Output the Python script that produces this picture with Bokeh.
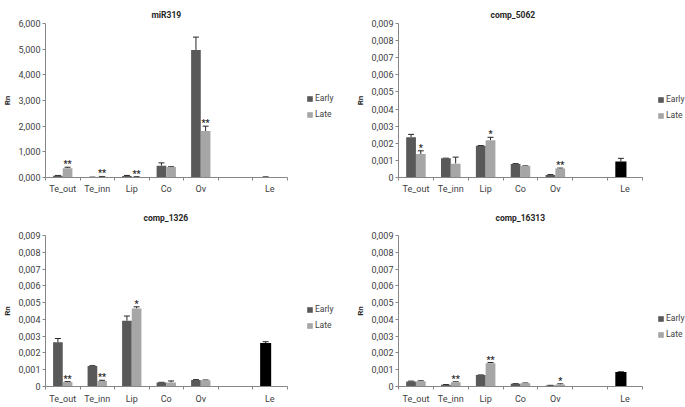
from bokeh.plotting import figure
from bokeh.layouts import gridplot
from bokeh.models import (Range1d, FixedTicker, ColumnDataSource, Whisker, TeeHead,
                          Legend, LegendItem)
from bokeh.core.properties import value
from bokeh.embed import file_html
from bokeh.resources import INLINE

# ---------------- data ----------------
categories = ["Te_out", "Te_inn", "Lip", "Co", "Ov", "", "Le"]
titles = ["miR319", "comp_5062", "comp_1326", "comp_16313"]

mir319_early = [0.07, 0.01, 0.06, 0.46, 4.97]
mir319_early_err = [0.01, 0.005, 0.02, 0.11, 0.50]
mir319_late = [0.36, 0.03, 0.02, 0.41, 1.81]
mir319_late_err = [0.04, 0.01, 0.01, 0.01, 0.19]
mir319_le = 0.02
mir319_le_err = 0.005
mir319_stars = ["**", "**", "**", "", "**"]

c5062_early = [0.00235, 0.00112, 0.00185, 0.00079, 0.00015]
c5062_early_err = [0.00017, 0.00001, 0.00002, 0.00002, 0.00002]
c5062_late = [0.00137, 0.00081, 0.00217, 0.00067, 0.00052]
c5062_late_err = [0.00019, 0.00038, 0.00018, 0.00001, 0.00003]
c5062_le = 0.00094
c5062_le_err = 0.00018
c5062_stars = ["*", "", "*", "", "**"]

c1326_early = [0.00263, 0.00122, 0.00392, 0.00024, 0.00039]
c1326_early_err = [0.00023, 0.00002, 0.00028, 0.00001, 0.00002]
c1326_late = [0.00027, 0.00033, 0.00465, 0.00024, 0.00037]
c1326_late_err = [0.00002, 0.00004, 0.00010, 0.00009, 0.00002]
c1326_le = 0.00259
c1326_le_err = 0.00008
c1326_stars = ["**", "**", "*", "", ""]

c16313_early = [0.00030, 0.00011, 0.00068, 0.00016, 0.00006]
c16313_early_err = [0.00002, 0.00001, 0.00001, 0.00001, 0.00001]
c16313_late = [0.00032, 0.00026, 0.00138, 0.00019, 0.00012]
c16313_late_err = [0.00002, 0.00002, 0.00005, 0.00002, 0.00004]
c16313_le = 0.00086
c16313_le_err = 0.00002
c16313_stars = ["", "**", "**", "", "*"]

mir_ticks = [0, 1, 2, 3, 4, 5, 6]
comp_ticks = [0, 0.001, 0.002, 0.003, 0.004, 0.005, 0.006, 0.007, 0.008, 0.009]

EARLY_COLOR = "#595959"
LATE_COLOR = "#a6a6a6"
LE_COLOR = "#000000"
AXIS_COLOR = "#868686"
TEXT_COLOR = "#404040"
FONT = "Roboto"


def label_fmt(v, decimals):
    if decimals == 0 and v == 0:
        return "0"
    return ("%.3f" % v).replace(".", ",")


def make_panel(title, early, early_err, late, late_err, le, le_err, stars,
               yticks, decimals, width, height, bl, bt, bb, axis_px,
               title_offset, title_standoff, legend_loc, x_standoff):
    ncat = len(categories)
    frame_w = width - bl
    x_end = ncat * frame_w / axis_px
    p = figure(width=width, height=height, output_backend="svg", toolbar_location=None,
               x_range=Range1d(0, x_end), y_range=Range1d(0, yticks[-1]),
               min_border_left=bl, min_border_right=0, min_border_top=bt,
               min_border_bottom=bb, outline_line_color=None)
    p.xgrid.visible = False
    p.ygrid.visible = False

    n = len(early)
    xe = [i + 0.5 - 0.14 for i in range(n)]
    xl = [i + 0.5 + 0.14 for i in range(n)]
    le_idx = categories.index("Le")
    xle = [le_idx + 0.5 - 0.12]

    src_e = ColumnDataSource(dict(x=xe, top=early, up=[a + b for a, b in zip(early, early_err)]))
    src_l = ColumnDataSource(dict(x=xl, top=late, up=[a + b for a, b in zip(late, late_err)],
                                  stars=stars))
    src_le = ColumnDataSource(dict(x=xle, top=[le], up=[le + le_err]))

    r_e = p.vbar(x="x", top="top", width=0.28, source=src_e, fill_color=EARLY_COLOR, line_color=None)
    r_l = p.vbar(x="x", top="top", width=0.28, source=src_l, fill_color=LATE_COLOR, line_color=None)
    p.vbar(x="x", top="top", width=0.32, source=src_le, fill_color=LE_COLOR, line_color=None)

    for src in (src_e, src_l, src_le):
        w = Whisker(source=src, base="x", lower="top", upper="up", dimension="height",
                    line_color="#262626", line_width=1,
                    upper_head=TeeHead(size=6, line_color="#262626", line_width=1),
                    lower_head=None)
        p.add_layout(w)

    p.text(x="x", y="up", text="stars", source=src_l, text_align="center",
           text_baseline="alphabetic", y_offset=-3, text_font=value(FONT),
           text_font_size="9px", text_font_style="bold", text_color="#262626")

    # title
    p.title.text = title
    p.title.align = "left"
    p.title.offset = title_offset
    p.title.standoff = title_standoff
    p.title.text_font = FONT
    p.title.text_font_size = "8.5px"
    p.title.text_font_style = "bold"
    p.title.text_color = "#262626"

    # x axis: labels centred in slots, ticks at slot boundaries
    xa = p.xaxis[0]
    centers = [i + 0.5 for i in range(ncat)]
    xa.bounds = (0, ncat)
    xa.ticker = FixedTicker(ticks=centers, minor_ticks=list(range(ncat + 1)))
    xa.major_label_overrides = {c: lab for c, lab in zip(centers, categories)}
    xa.major_tick_out = 0
    xa.major_tick_in = 0
    xa.minor_tick_out = 3
    xa.minor_tick_in = 0
    xa.minor_tick_line_color = AXIS_COLOR
    xa.axis_line_color = AXIS_COLOR
    xa.major_label_text_font = FONT
    xa.major_label_text_font_size = "9px"
    xa.major_label_text_color = TEXT_COLOR
    xa.major_label_standoff = x_standoff

    ya = p.yaxis[0]
    ya.ticker = FixedTicker(ticks=yticks, minor_ticks=[])
    ya.major_label_overrides = {t: label_fmt(t, decimals) for t in yticks}
    ya.major_tick_out = 3
    ya.major_tick_in = 0
    ya.major_tick_line_color = AXIS_COLOR
    ya.axis_line_color = AXIS_COLOR
    ya.major_label_text_font = FONT
    ya.major_label_text_font_size = "9px"
    ya.major_label_text_color = TEXT_COLOR
    ya.major_label_standoff = 2
    ya.axis_label = "Rn"
    ya.axis_label_text_font = FONT
    ya.axis_label_text_font_size = "8px"
    ya.axis_label_text_font_style = "bold"
    ya.axis_label_text_color = "#262626"
    ya.axis_label_standoff = 3

    legend = Legend(items=[LegendItem(label="Early", renderers=[r_e]),
                           LegendItem(label="Late", renderers=[r_l])],
                    location=legend_loc, orientation="vertical",
                    padding=0, margin=0, spacing=6, glyph_width=7, glyph_height=7,
                    label_height=10, label_standoff=2,
                    label_text_font=FONT, label_text_font_size="8.5px",
                    label_text_color=TEXT_COLOR, border_line_color=None,
                    background_fill_alpha=0)
    p.add_layout(legend)
    return p


p1 = make_panel(titles[0], mir319_early, mir319_early_err, mir319_late, mir319_late_err,
                mir319_le, mir319_le_err, mir319_stars, mir_ticks, 3,
                340, 197, 42, 23, 20, 244, 106, 8, (261, 58), 3)
p2 = make_panel(titles[1], c5062_early, c5062_early_err, c5062_late, c5062_late_err,
                c5062_le, c5062_le_err, c5062_stars, comp_ticks, 0,
                345, 197, 58, 23, 20, 244, 92, 8, (259, 57), 3)
p3 = make_panel(titles[2], c1326_early, c1326_early_err, c1326_late, c1326_late_err,
                c1326_le, c1326_le_err, c1326_stars, comp_ticks, 0,
                340, 210, 42, 37, 21, 244, 98, 26, (261, 56), 4)
p4 = make_panel(titles[3], c16313_early, c16313_early_err, c16313_late, c16313_late_err,
                c16313_le, c16313_le_err, c16313_stars, comp_ticks, 0,
                345, 210, 58, 37, 21, 244, 97, 26, (259, 47), 4)

grid = gridplot([[p1, p2], [p3, p4]], toolbar_location=None)

open("out.html", "w").write(file_html(grid, INLINE))
